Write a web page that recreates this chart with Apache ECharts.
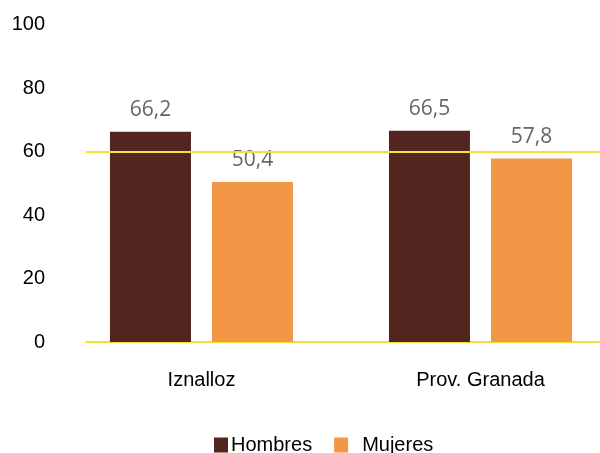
<!DOCTYPE html>
<html><head><meta charset="utf-8">
<script src="https://cdn.jsdelivr.net/npm/echarts@6/dist/echarts.min.js"></script>
<style>html,body{margin:0;padding:0;background:#fff;overflow:hidden}#c{width:620px;height:453px}</style>
</head><body><div id="c"></div>
<script>
const categories = ['Iznalloz', 'Prov. Granada'];
const hombres = [66.2, 66.5];
const mujeres = [50.4, 57.8];
const yTicks = [0, 20, 40, 60, 80, 100];
const refLine = 60;

const chart = echarts.init(document.getElementById('c'), null, {renderer: 'canvas'});
const fmt = p => String(p.value).replace('.', ',');
const labelStyle = {show: true, position: 'top', distance: 11, color: '#666666', fontSize: 21, fontFamily: 'Open Sans', formatter: fmt};
chart.setOption({
  animation: false,
  legend: {
    top: 430, left: 209, itemWidth: 14, itemHeight: 15, itemGap: 22, icon: 'rect',
    textStyle: {fontSize: 20, color: '#000', fontFamily: 'Liberation Sans', padding: [0, 0, 0, -2]},
    data: ['Hombres', {name: 'Mujeres', textStyle: {padding: [0, 0, 0, 9]}}]
  },
  grid: [
    {left: 62, right: 0, top: 24.5, bottom: 111, containLabel: false},
    {left: 86, right: 20, top: 24.5, bottom: 111, containLabel: false}
  ],
  xAxis: [
    {type: 'category', data: categories, gridIndex: 0,
     axisLine: {show: false}, axisTick: {show: false},
     axisLabel: {color: '#000', fontSize: 20, fontFamily: 'Liberation Sans', margin: 28}},
    {type: 'category', data: categories, gridIndex: 1,
     axisLine: {show: true, lineStyle: {color: '#F4DF3A', width: 2}}, axisTick: {show: false},
     axisLabel: {show: false}}
  ],
  yAxis: [
    {type: 'value', gridIndex: 0, min: 0, max: 100, interval: 20, show: false, splitLine: {show: false}},
    {type: 'value', gridIndex: 1, min: 0, max: 100, interval: 20,
     axisLine: {show: false}, axisTick: {show: false}, splitLine: {show: false},
     axisLabel: {color: '#000', fontSize: 20, fontFamily: 'Liberation Sans', margin: 41,
       formatter: v => yTicks.includes(v) ? String(v) : ''}}
  ],
  series: [
    {name: 'Hombres', type: 'bar', xAxisIndex: 0, yAxisIndex: 0, data: hombres,
     barWidth: 81, barGap: '26%', itemStyle: {color: '#52261F'}, label: labelStyle},
    {name: 'Mujeres', type: 'bar', xAxisIndex: 0, yAxisIndex: 0, data: mujeres,
     barWidth: 81, barGap: '26%', itemStyle: {color: '#F39646'}, label: labelStyle},
    {name: 'ref', type: 'line', xAxisIndex: 1, yAxisIndex: 1, data: [null, null], silent: true,
     showSymbol: false,
     markLine: {silent: true, symbol: 'none', label: {show: false},
       lineStyle: {color: '#F4DF3A', width: 2, type: 'solid'},
       data: [{yAxis: refLine}]}}
  ]
});
</script></body></html>
